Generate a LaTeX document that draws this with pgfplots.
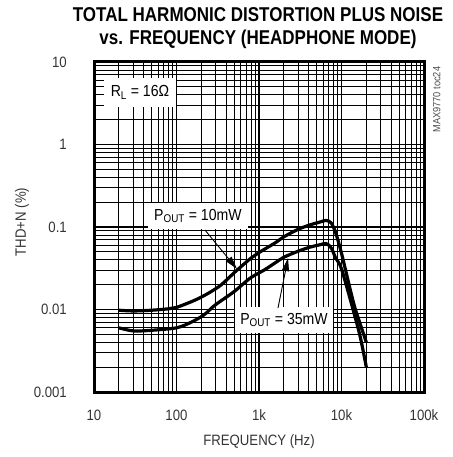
\documentclass[border=0pt]{standalone}
\usepackage{fontspec}
\setmainfont[FakeStretch=0.88]{Liberation Sans}
\newfontfamily\titlefont[FakeStretch=0.85]{Liberation Sans}
\usepackage{pgfplots}
\pgfplotsset{compat=1.18}
\usetikzlibrary{arrows.meta}

\pgfplotstableread{
f      thd
20     0.0098
30     0.0096
50     0.0098
80     0.0102
100    0.0106
168    0.013
250    0.016
350    0.020
512    0.0285
800    0.042
1000   0.049
1560   0.064
2000   0.076
3000   0.094
4150   0.106
5500   0.115
6500   0.12
7500   0.112
8500   0.085
10000  0.048
14000  0.012
17000  0.0065
20000  0.004
}\tenmw

\pgfplotstableread{
f      thd
20     0.006
30     0.0055
50     0.0056
100    0.006
150    0.007
215    0.0086
293    0.0113
500    0.0165
780    0.024
1150   0.030
1560   0.0366
2000   0.043
3000   0.051
4150   0.057
5500   0.061
6500   0.063
7500   0.056
8500   0.042
10000  0.031
14000  0.0095
17000  0.0045
20000  0.002
}\thirtyfivemw

\begin{document}
\begin{tikzpicture}
\useasboundingbox (0,0) rectangle (452pt,457pt);
\begin{axis}[
    at={(94pt,65pt)}, anchor=south west,
    width=330pt, height=330pt, scale only axis,
    xmode=log, ymode=log,
    xmin=10, xmax=100000, ymin=0.001, ymax=10,
    xtick={10,100,1000,10000,100000},
    xticklabels={10,100,1k,10k,100k},
    ytick={0.001,0.01,0.1,1,10},
    yticklabels={0.001,0.01,0.1,1,10},
    /pgf/number format/assume math mode=true,
    major tick length=0pt, minor tick length=0pt,
    grid=both,
    major grid style={black, line width=1.5pt},
    minor grid style={black, line width=0.8pt},
    axis line style={black, line width=3pt},
    tick label style={font=\fontsize{15}{17}\selectfont, text=black!80},
    xticklabel style={anchor=center, yshift=-23pt},
    yticklabel style={anchor=east, inner sep=0pt, xshift=-27pt},
    xlabel={FREQUENCY (Hz)},
    xlabel style={at={(axis description cs:0.5,-0.1515)}, anchor=center,
                  font=\fontsize{15}{17}\selectfont, text=black!80},
    ylabel={THD+N (\%)},
    ylabel style={at={(axis description cs:-0.218,0.515)}, anchor=center,
                  font=\fontsize{15}{17}\selectfont, text=black!80},
    title={TOTAL HARMONIC DISTORTION PLUS NOISE\\vs. FREQUENCY (HEADPHONE MODE)},
    title style={at={(axis description cs:0.497,1.085)}, anchor=center,
                 align=center, font=\titlefont\bfseries\fontsize{20}{23}\selectfont},
    clip=false,
]
\addplot[black, line width=3.2pt, smooth, tension=0.5] table[x=f, y=thd] {\tenmw};
\addplot[black, line width=3.2pt, smooth, tension=0.5] table[x=f, y=thd] {\thirtyfivemw};

\node[fill=white, minimum width=72pt, minimum height=29pt, inner sep=0pt,
      font=\fontsize{16}{18}\selectfont] at (axis cs:36.1,4.27) {R\textsubscript{L} = 16Ω};
\node[fill=white, minimum width=100pt, minimum height=26pt, inner sep=0pt,
      font=\fontsize{16}{18}\selectfont] at (axis cs:182,0.136) {P\textsubscript{OUT} = 10mW};
\node[fill=white, minimum width=98pt, minimum height=26pt, inner sep=0pt,
      font=\fontsize{16}{18}\selectfont] at (axis cs:2010,0.00746) {P\textsubscript{OUT} = 35mW};

\draw[line width=0.9pt, -{Triangle[length=13pt,width=7pt]}]
    (axis cs:221,0.092) -- (axis cs:541,0.031);
\draw[line width=0.9pt, -{Triangle[length=13pt,width=7pt]}]
    (axis cs:1698,0.0104) -- (axis cs:2250,0.042);

\node[rotate=90, text=black!70, font=\fontsize{10.5}{12}\selectfont]
    at (axis description cs:1.039,0.886) {MAX9770 toc24};
\end{axis}
\end{tikzpicture}
\end{document}
